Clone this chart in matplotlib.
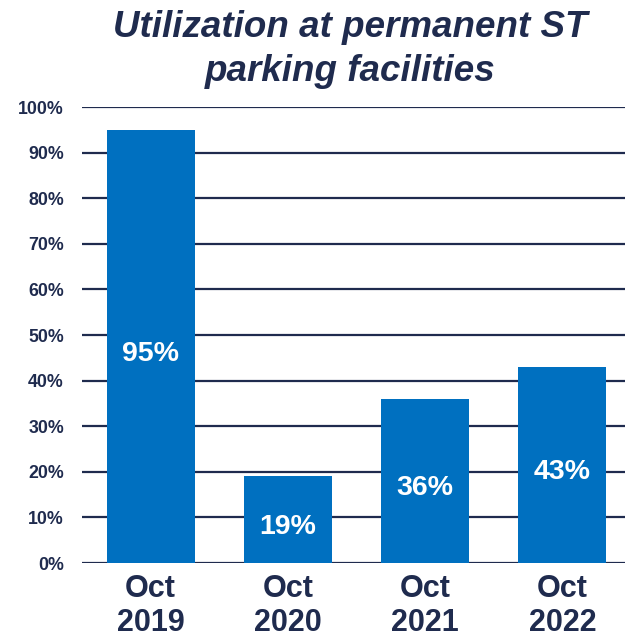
import matplotlib
matplotlib.use("Agg")
import matplotlib.pyplot as plt

categories = ["Oct\n2019", "Oct\n2020", "Oct\n2021", "Oct\n2022"]
values = [95, 19, 36, 43]
y_ticks = [0, 10, 20, 30, 40, 50, 60, 70, 80, 90, 100]
title = "Utilization at permanent ST\nparking facilities"

navy = "#1f2b4e"
blue = "#0070c0"

plt.rcParams["font.family"] = ["Liberation Sans", "DejaVu Sans"]

fig = plt.figure(figsize=(6.25, 6.4), dpi=100)
W, H = 625, 640
left, right = 82, 631
bottom, top = 563, 107
ax = fig.add_axes([left / W, (H - bottom) / H, (right - left) / W, (bottom - top) / H])

x = list(range(len(categories)))
bars = ax.bar(x, values, width=0.64, color=blue, zorder=3)
for xi, v in zip(x, values):
    ax.annotate(f"{v}%", (xi, v / 2), xytext=(0, -3), textcoords="offset points",
                ha="center", va="center_baseline", color="white",
                fontsize=20.5, fontweight="bold", zorder=4)

ax.set_xlim(-0.5, 3.5)
ax.set_ylim(0, 100)
ax.set_yticks(y_ticks)
ax.set_yticklabels([f"{t}%" for t in y_ticks])
ax.yaxis.grid(True, color=navy, linewidth=1.6, zorder=1)
ax.set_axisbelow(True)
for s in ax.spines.values():
    s.set_visible(False)
ax.tick_params(axis="y", length=0, pad=13, labelsize=12.8, labelcolor=navy)
ax.tick_params(axis="x", length=0, pad=8, labelsize=22, labelcolor=navy)
ax.set_xticks(x)
ax.set_xticklabels(categories, fontweight="bold", linespacing=1.18)
for lab in ax.get_yticklabels():
    lab.set_fontweight("bold")

fig.text(350 / W, 1 - 10 / H, title, ha="center", va="top", fontsize=26.5,
         fontweight="bold", fontstyle="italic", color=navy, linespacing=1.32)

fig.savefig("out.png", dpi=100)
